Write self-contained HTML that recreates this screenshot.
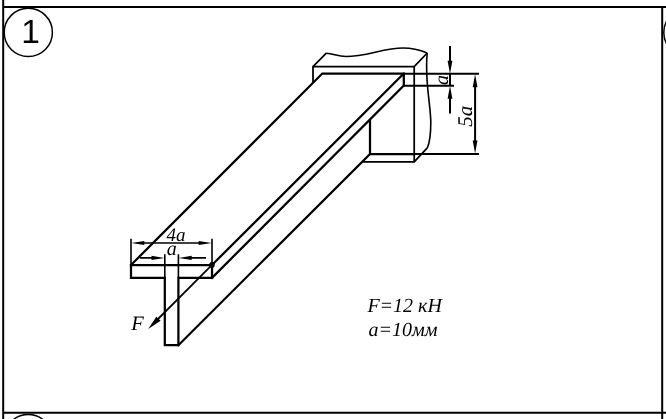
<!DOCTYPE html>
<html><head><meta charset="utf-8"><title>1</title>
<style>
html,body{margin:0;padding:0;background:#fff;overflow:hidden}
svg{display:block;will-change:transform}
.k{stroke:#000;stroke-width:2.25;fill:none;stroke-linecap:square;stroke-linejoin:miter}
.w{stroke:#000;stroke-width:1.75;fill:none}
.t{stroke:#000;stroke-width:2;fill:none}
.f{stroke:#000;stroke-width:2;fill:none}
.c{stroke:#000;stroke-width:1.5;fill:none}
text{fill:#000;text-rendering:geometricPrecision}
.s{font-family:"Liberation Serif",serif;font-style:italic}
.n{font-family:"Liberation Sans",sans-serif}
</style></head>
<body>
<svg width="666" height="419" viewBox="0 0 666 419">
<rect width="666" height="419" fill="#fff"/>
<!-- frame -->
<path class="f" d="M3.2 0V419M2.2 7.1H666M2.2 412.8H666M662.2 6.1V419"/>
<circle class="c" cx="28.3" cy="32.4" r="24.1"/>
<circle class="c" cx="687.9" cy="32.4" r="24.1"/>
<circle class="c" cx="28.2" cy="438.6" r="24.1"/>
<text class="n" x="30.6" y="43.2" font-size="33.5" text-anchor="middle">1</text>
<!-- wall -->
<path class="w" d="M313 82V66.7H414.2V161.8H362.5M313 66.7L326.3 53.2M414.2 66.7L427.2 53M414.2 161.8L427.3 147.8"/>
<path class="w" style="stroke-width:1.6" d="M326.3 53.2C334 54 338 56.5 346 56.5C366 56.5 384 48 403 48C412 48 420 50 427.2 53"/>
<path class="w" style="stroke-width:1.6" d="M427.2 53C426.3 62 426.5 72 427.2 82C428 95 430.8 112 430.8 122C430.8 135 429.5 143 427.3 147.8"/>
<!-- beam -->
<path class="k" d="M131 265H212V277.9H178.4V345.2H164.8V277.9H131Z"/>
<path class="k" d="M131 265L322.3 73.5H403.8V85.6L212 277.9M212 265L403.8 73.5M178.4 345.2L370 154V120M370 154H414.2"/>
<!-- dims -->
<path class="t" d="M403.8 73.8H479M403.8 85.85H454M414.2 153.9H479"/>
<path class="t" d="M450 46V64M450 73.8V85.8M450 95.5V113.5M475.1 84V144"/>
<path class="t" style="stroke-width:1.6" d="M131 238.8V264.8M212 238.8V264.8M141 243H202M164.8 254.2V277.6M178.4 254.2V277.6M139.8 257.9H155M188 257.9H206"/>
<!-- force -->
<path class="t" style="stroke-width:1.8" d="M212 264.8L152 325"/>
<circle cx="212" cy="264.9" r="2.8"/>
<path d="M450.00 73.80L447.60 60.80L452.40 60.80ZM450.00 85.85L452.40 98.85L447.60 98.85ZM475.10 74.30L477.50 87.30L472.70 87.30ZM475.10 153.40L472.70 140.40L477.50 140.40ZM131.30 243.00L144.30 240.90L144.30 245.10ZM211.70 243.00L198.70 245.10L198.70 240.90ZM164.50 257.90L151.50 260.00L151.50 255.80ZM178.70 257.90L191.70 255.80L191.70 260.00ZM148.20 329.00L156.33 316.63L160.57 320.87Z" fill="#000"/>
<text class="s" x="131.3" y="330.1" font-size="20.5">F</text>
<text class="s" x="166.6" y="240.5" font-size="19">4a</text>
<text class="s" x="166.8" y="254.7" font-size="20">a</text>
<text class="s" transform="translate(448.2 85) rotate(-90)" font-size="20">a</text>
<text class="s" transform="translate(471.8 126.8) rotate(-90)" font-size="21">5a</text>
<text class="s" x="367.4" y="312.1" font-size="20">F=12 кН</text>
<text class="s" x="368.6" y="336.1" font-size="20">a=10мм</text>
</svg>
</body></html>
